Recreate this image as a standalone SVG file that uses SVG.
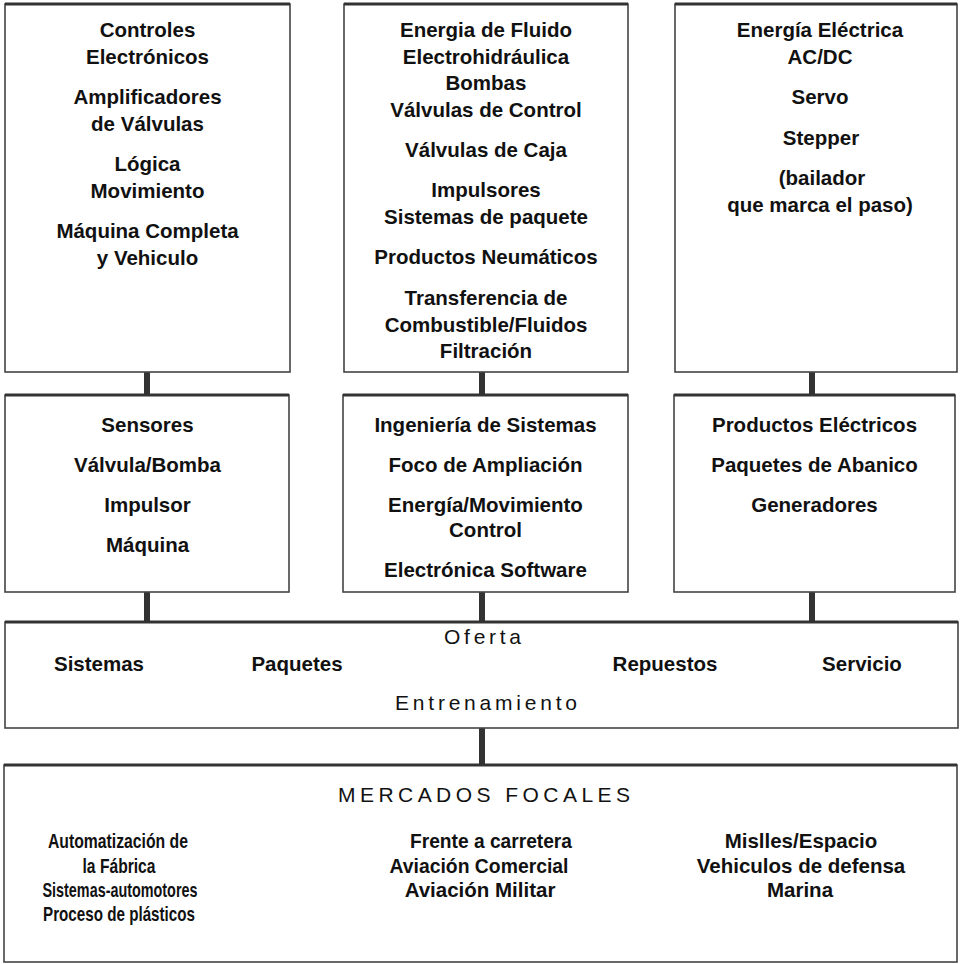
<svg xmlns="http://www.w3.org/2000/svg" width="960" height="964" viewBox="0 0 960 964">
<style>
.box{fill:#fff;stroke:#444;stroke-width:1.6}
.top{stroke:#333;stroke-width:3;fill:none}
.t{font-family:"Liberation Sans",Arial,sans-serif;font-weight:bold;font-size:20.5px;fill:#111;text-anchor:middle}
.h{font-family:"Liberation Sans",Arial,sans-serif;font-weight:normal;font-size:21px;fill:#111}
.c{stroke:#333;stroke-width:6;fill:none}
</style>
<rect x="0" y="0" width="960" height="964" fill="#fff"/>
<g id="connectors">
<line class="c" x1="147" y1="372" x2="147" y2="395"/>
<line class="c" x1="482" y1="372" x2="482" y2="395"/>
<line class="c" x1="812" y1="372" x2="812" y2="395"/>
<line class="c" x1="147" y1="592" x2="147" y2="622"/>
<line class="c" x1="482" y1="592" x2="482" y2="622"/>
<line class="c" x1="812" y1="592" x2="812" y2="622"/>
<line class="c" x1="482" y1="728" x2="482" y2="765"/>
</g>
<g id="controles">
<rect class="box" x="5" y="4" width="285" height="368"/>
<line class="top" x1="5" y1="4" x2="290" y2="4"/>
<text class="t" x="147.5" y="37">Controles</text>
<text class="t" x="147.5" y="63.5">Electrónicos</text>
<text class="t" x="147.5" y="104">Amplificadores</text>
<text class="t" x="147.5" y="130.5">de Válvulas</text>
<text class="t" x="147.5" y="171">Lógica</text>
<text class="t" x="147.5" y="197.5">Movimiento</text>
<text class="t" x="147.5" y="238">Máquina Completa</text>
<text class="t" x="147.5" y="264.5">y Vehiculo</text>
</g>
<g id="fluido">
<rect class="box" x="344" y="4" width="284" height="368"/>
<line class="top" x1="344" y1="4" x2="628" y2="4"/>
<text class="t" x="486" y="37">Energia de Fluido</text>
<text class="t" x="486" y="63.5">Electrohidráulica</text>
<text class="t" x="486" y="90">Bombas</text>
<text class="t" x="486" y="116.5">Válvulas de Control</text>
<text class="t" x="486" y="157">Válvulas de Caja</text>
<text class="t" x="486" y="197">Impulsores</text>
<text class="t" x="486" y="223.5">Sistemas de paquete</text>
<text class="t" x="486" y="264">Productos Neumáticos</text>
<text class="t" x="486" y="305">Transferencia de</text>
<text class="t" x="486" y="331.5">Combustible/Fluidos</text>
<text class="t" x="486" y="358">Filtración</text>
</g>
<g id="electrica">
<rect class="box" x="675" y="4" width="282" height="368"/>
<line class="top" x1="675" y1="4" x2="957" y2="4"/>
<text class="t" x="820" y="37">Energía Eléctrica</text>
<text class="t" x="820" y="63.5">AC/DC</text>
<text class="t" x="820" y="104">Servo</text>
<text class="t" x="821" y="145">Stepper</text>
<text class="t" x="822" y="185">(bailador</text>
<text class="t" x="820" y="211.5">que marca el paso)</text>
</g>
<g id="sensores">
<rect class="box" x="5" y="395" width="284" height="197"/>
<line class="top" x1="5" y1="395" x2="289" y2="395"/>
<text class="t" x="147.5" y="431.5">Sensores</text>
<text class="t" x="147.5" y="471.5">Válvula/Bomba</text>
<text class="t" x="147.5" y="511.5">Impulsor</text>
<text class="t" x="147.5" y="551.5">Máquina</text>
</g>
<g id="ingenieria">
<rect class="box" x="343" y="395" width="285" height="197"/>
<line class="top" x1="343" y1="395" x2="628" y2="395"/>
<text class="t" x="485.5" y="431.5">Ingeniería de Sistemas</text>
<text class="t" x="485.5" y="471.5">Foco de Ampliación</text>
<text class="t" x="485.5" y="511.5">Energía/Movimiento</text>
<text class="t" x="485.5" y="537">Control</text>
<text class="t" x="485.5" y="577">Electrónica Software</text>
</g>
<g id="productos">
<rect class="box" x="674" y="395" width="281" height="197"/>
<line class="top" x1="674" y1="395" x2="955" y2="395"/>
<text class="t" x="814.5" y="431.5">Productos Eléctricos</text>
<text class="t" x="814.5" y="471.5">Paquetes de Abanico</text>
<text class="t" x="814.5" y="511.5">Generadores</text>
</g>
<g id="oferta">
<rect class="box" x="5" y="622" width="953" height="106"/>
<line class="top" x1="5" y1="622" x2="958" y2="622"/>
<text class="h" x="444" y="644" textLength="77" lengthAdjust="spacing">Oferta</text>
<text class="t" x="99" y="671">Sistemas</text>
<text class="t" x="297" y="671">Paquetes</text>
<text class="t" x="665" y="671">Repuestos</text>
<text class="t" x="862" y="671">Servicio</text>
<text class="h" x="395" y="710" textLength="182" lengthAdjust="spacing">Entrenamiento</text>
</g>
<g id="mercados">
<rect class="box" x="4" y="765" width="953" height="197"/>
<line class="top" x1="4" y1="765" x2="957" y2="765"/>
<text class="h" x="338" y="802" textLength="292" lengthAdjust="spacing">MERCADOS FOCALES</text>
<text class="t" x="118" y="848" textLength="140" lengthAdjust="spacingAndGlyphs">Automatización de</text>
<text class="t" x="119" y="872.5" textLength="73" lengthAdjust="spacingAndGlyphs">la Fábrica</text>
<text class="t" x="120" y="897" textLength="155" lengthAdjust="spacingAndGlyphs">Sistemas-automotores</text>
<text class="t" x="119" y="921" textLength="152" lengthAdjust="spacingAndGlyphs">Proceso de plásticos</text>
<text class="t" x="491" y="848" textLength="162" lengthAdjust="spacingAndGlyphs">Frente a carretera</text>
<text class="t" x="479" y="872.5" textLength="179" lengthAdjust="spacingAndGlyphs">Aviación Comercial</text>
<text class="t" x="480" y="897">Aviación Militar</text>
<text class="t" x="801" y="848">Mislles/Espacio</text>
<text class="t" x="801" y="872.5">Vehiculos de defensa</text>
<text class="t" x="800" y="897">Marina</text>
</g>
</svg>
